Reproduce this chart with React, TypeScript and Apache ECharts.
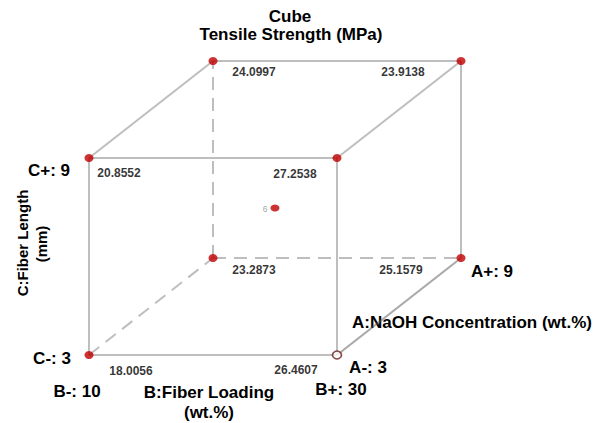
import React, { useEffect, useRef } from "react";
import * as echarts from "echarts";

// Coded factor levels of the eight corner runs (A: NaOH, B: loading, C: length)
const levelA = [-1, 1, -1, 1, -1, 1, -1, 1];
const levelB = [-1, -1, 1, 1, -1, -1, 1, 1];
const levelC = [-1, -1, -1, -1, 1, 1, 1, 1];
// Predicted tensile strength (MPa) at each corner
const tensileStrength = [18.0056, 23.2873, 26.4607, 25.1579, 20.8552, 24.0997, 27.2538, 23.9138];
// Replicated centre point
const centerRuns = 6;

const titleLines = ["Cube", "Tensile Strength (MPa)"];
const factorNames = ["A:NaOH Concentration (wt.%)", "B:Fiber Loading", "C:Fiber Length"];
const factorUnitsLine = ["", "(wt.%)", "(mm)"];
const lowLevels = [3, 10, 3];
const highLevels = [9, 30, 9];

// Oblique projection of the cube: depth (factor A) shifts right and up
const DEPTH_X = 0.5;
const DEPTH_Y = 0.4924;
const project = (a: number, b: number, c: number): [number, number] => [
  b + DEPTH_X * a,
  c + DEPTH_Y * a,
];

// Pixel offsets of the value labels from their corner markers
const labelOffsets: [number, number][] = [
  [42, 16], [41, 12], [-41, 15], [-60, 12],
  [30, 15], [41, 11], [-42, 16], [-58, 11],
];

const FONT = "'Liberation Sans', Arial, sans-serif";
const EDGE_COLOR = "#7d7d7d";
const MARK_COLOR = "#c00000";

export default function App() {
  const ref = useRef<HTMLDivElement>(null);

  useEffect(() => {
    if (!ref.current) return;
    const chart = echarts.init(ref.current, undefined, { renderer: "svg" });

    const n = tensileStrength.length;
    const corners = tensileStrength.map((_, i) => project(levelA[i], levelB[i], levelC[i]));
    // The back-bottom-left corner is hidden behind the front faces
    const isHidden = (i: number) => levelA[i] === 1 && levelB[i] === -1 && levelC[i] === -1;
    // The low-A, high-B, low-C run is shown with an open marker
    const isOpen = (i: number) => levelA[i] === -1 && levelB[i] === 1 && levelC[i] === -1;

    const edges: any[] = [];
    for (let i = 0; i < n; i++) {
      for (let j = i + 1; j < n; j++) {
        const diff =
          (levelA[i] !== levelA[j] ? 1 : 0) +
          (levelB[i] !== levelB[j] ? 1 : 0) +
          (levelC[i] !== levelC[j] ? 1 : 0);
        if (diff !== 1) continue;
        const hidden = isHidden(i) || isHidden(j);
        const depthFrontRight =
          levelA[i] !== levelA[j] && levelB[i] === 1 && levelC[i] === -1;
        edges.push({
          coords: [corners[i], corners[j]],
          lineStyle: hidden
            ? { type: [13, 8], color: EDGE_COLOR, width: 2 }
            : depthFrontRight
            ? { type: "solid", color: "#555", width: 2.2 }
            : { type: "solid", color: EDGE_COLOR, width: 2 },
        });
      }
    }

    const cornerData = tensileStrength.map((v, i) => ({
      value: [corners[i][0], corners[i][1], v],
      itemStyle: isOpen(i)
        ? { color: "#ffffff", borderColor: "#6a1a1a", borderWidth: 1.6 }
        : { color: MARK_COLOR },
      label: { offset: labelOffsets[i] },
    }));

    const center = project(0, 0, 0);

    const text = (
      str: string,
      x: number,
      y: number,
      size: number,
      extra: any = {}
    ) => ({
      type: "text",
      x,
      y,
      ...extra,
      style: {
        text: str,
        fontFamily: FONT,
        fontSize: size,
        fontWeight: "bold",
        fill: "#000",
        align: "center",
        verticalAlign: "middle",
      },
    });

    chart.setOption({
      animation: false,
      backgroundColor: "#ffffff",
      grid: { left: 76.6, top: 50.4, width: 396.8, height: 315.2, show: false },
      xAxis: { type: "value", min: -1.6, max: 1.6, show: false },
      yAxis: { type: "value", min: -1.6, max: 1.6, show: false },
      series: [
        {
          type: "lines",
          coordinateSystem: "cartesian2d",
          data: edges,
          symbol: "none",
          silent: true,
          z: 1,
        },
        {
          type: "scatter",
          clip: false,
          symbol: "circle",
          symbolSize: [9, 8],
          z: 3,
          data: cornerData,
          label: {
            show: true,
            position: "inside",
            formatter: (p: any) => p.value[2].toFixed(4),
            fontFamily: FONT,
            fontSize: 12,
            fontWeight: "bold",
            color: "#000",
          },
        },
        {
          type: "scatter",
          clip: false,
          symbol: "circle",
          symbolSize: [9, 7],
          z: 3,
          itemStyle: { color: MARK_COLOR },
          data: [{ value: [center[0], center[1], centerRuns] }],
          label: {
            show: true,
            position: "inside",
            offset: [-10, 1],
            formatter: (p: any) => String(p.value[2]),
            fontFamily: FONT,
            fontSize: 8.5,
            color: "#888",
          },
        },
      ],
      graphic: [
        text(titleLines[0], 290, 16, 17),
        text(titleLines[1], 291, 34, 17),
        text(`C+: ${highLevels[2]}`, 49, 170, 17),
        text(`C-: ${lowLevels[2]}`, 52, 358, 17),
        text(`B-: ${lowLevels[1]}`, 77, 391, 17),
        text(`B+: ${highLevels[1]}`, 341, 389, 17),
        text(`A-: ${lowLevels[0]}`, 368, 367, 17),
        text(`A+: ${highLevels[0]}`, 492, 271, 17),
        text(factorNames[0], 472, 322, 17),
        text(factorNames[1], 209, 392, 17),
        text(factorUnitsLine[1], 209, 412, 17),
        text(factorNames[2], 22, 243, 15, { rotation: Math.PI / 2 }),
        text(factorUnitsLine[2], 41, 244, 15, { rotation: Math.PI / 2 }),
      ],
    });

    return () => chart.dispose();
  }, []);

  return (
    <div
      ref={ref}
      style={{ position: "absolute", left: 0, top: 0, width: 595, height: 423, background: "#fff" }}
    />
  );
}
